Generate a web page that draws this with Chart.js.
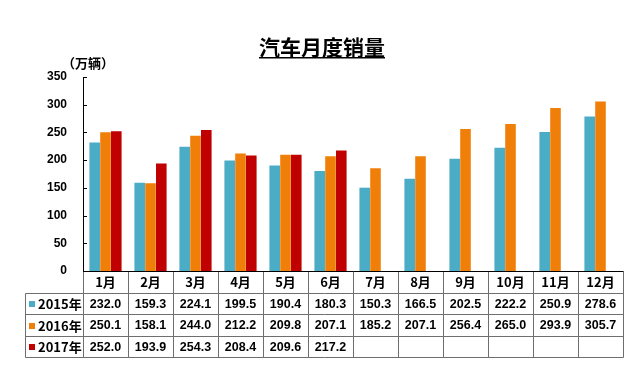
<!DOCTYPE html>
<html><head><meta charset="utf-8">
<script src="https://cdn.jsdelivr.net/npm/chart.js@4"></script>
<style>html,body{margin:0;padding:0;background:#fff;}#wrap{width:640px;height:377px;position:relative;}</style>
</head><body><div id="wrap"><canvas id="c"></canvas></div>
<script>
const categories = ['1月','2月','3月','4月','5月','6月','7月','8月','9月','10月','11月','12月'];
const seriesNames = ['2015年','2016年','2017年'];
const sales2015 = [232.0,159.3,224.1,199.5,190.4,180.3,150.3,166.5,202.5,222.2,250.9,278.6];
const sales2016 = [250.1,158.1,244.0,212.2,209.8,207.1,185.2,207.1,256.4,265.0,293.9,305.7];
const sales2017 = [252.0,193.9,254.3,208.4,209.6,217.2,null,null,null,null,null,null];
const yTicks = [0,50,100,150,200,250,300,350];
const chartTitle = '汽车月度销量';
const unitLabel = '（万辆）';
const colors = ['#4BACC6','#F07F09','#C00000'];

const FONT = '"Liberation Sans", Arial, "Noto Sans CJK SC", sans-serif';
const CJK = '"Noto Sans CJK SC", "Liberation Sans", sans-serif';

const extras = {
  id:'extras',
  afterDraw(chart){
    const {ctx, chartArea:a, scales:{x,y}} = chart;
    ctx.save();
    // title
    ctx.fillStyle = '#000';
    ctx.font = 'bold 21px ' + CJK;
    ctx.textAlign = 'center';
    ctx.textBaseline = 'middle';
    const tx = 322, ty = 47;
    ctx.fillText(chartTitle, tx, ty);
    const tw = ctx.measureText(chartTitle).width;
    ctx.fillRect(tx - tw/2, ty + 10, tw, 1.5);
    // unit label
    ctx.font = 'bold 13px ' + CJK;
    ctx.textAlign = 'left';
    ctx.fillText(unitLabel, 62, 63);
    // inner ticks
    ctx.strokeStyle = '#000';
    ctx.lineWidth = 1;
    yTicks.forEach(v=>{
      const py = Math.round(y.getPixelForValue(v)) + 0.5;
      ctx.beginPath(); ctx.moveTo(a.left, py); ctx.lineTo(a.left+4, py); ctx.stroke();
    });
    // table
    const n = categories.length;
    const bw = (a.right - a.left)/n;
    const rowH = 21.5;
    const top = a.bottom;
    const rows = [0,1,2,3,4].map(i=>Math.round(top + i*rowH)+0.5);
    const left = 25.5;
    ctx.strokeStyle = '#6e6e6e';
    const line=(x1,y1,x2,y2)=>{ctx.beginPath();ctx.moveTo(x1,y1);ctx.lineTo(x2,y2);ctx.stroke();};
    for(let i=1;i<5;i++) line(left, rows[i], a.right+0.5, rows[i]);
    for(let i=0;i<=n;i++){
      const xx = Math.round(x.getPixelForValue(i) - bw/2) + 0.5;
      line(xx, rows[0], xx, rows[4]);
    }
    line(left, rows[1], left, rows[4]);
    ctx.strokeStyle = '#000';
    line(a.left, rows[0], a.right+0.5, rows[0]);
    // header text
    ctx.fillStyle = '#000';
    ctx.textAlign = 'center';
    ctx.textBaseline = 'middle';
    ctx.font = 'bold 13px ' + CJK;
    categories.forEach((c,i)=>ctx.fillText(c, x.getPixelForValue(i), (rows[0]+rows[1])/2));
    const data = [sales2015, sales2016, sales2017];
    data.forEach((arr,r)=>{
      const cy = (rows[r+1]+rows[r+2])/2;
      ctx.font = 'bold 12.5px ' + FONT;
      ctx.textAlign = 'center';
      arr.forEach((v,i)=>{
        if(v===null) return;
        ctx.fillText(v.toFixed(1), x.getPixelForValue(i), cy+0.5);
      });
      ctx.fillStyle = colors[r];
      ctx.fillRect(29, Math.round(cy-3), 6, 6);
      ctx.fillStyle = '#000';
      ctx.textAlign = 'left';
      ctx.font = 'bold 13px ' + CJK;
      ctx.fillText(seriesNames[r], 38, cy+0.5);
    });
    ctx.restore();
  }
};

new Chart(document.getElementById('c'), {
  type:'bar',
  data:{
    labels: categories,
    datasets:[
      {label:seriesNames[0], data:sales2015, backgroundColor:colors[0]},
      {label:seriesNames[1], data:sales2016, backgroundColor:colors[1]},
      {label:seriesNames[2], data:sales2017, backgroundColor:colors[2]}
    ]
  },
  options:{
    responsive:true, maintainAspectRatio:false, devicePixelRatio:1, animation:false,
    layout:{padding:{left:0, top:77, right:17, bottom:106}},
    datasets:{bar:{categoryPercentage:0.72, barPercentage:0.98}},
    plugins:{legend:{display:false}, tooltip:{enabled:false}, title:{display:false}},
    scales:{
      x:{display:false, offset:true},
      y:{
        min:0, max:350,
        afterFit(s){ s.width = 83; },
        afterBuildTicks(s){ s.ticks = yTicks.map(v=>({value:v})); },
        grid:{display:false, drawTicks:false},
        border:{display:true, color:'#000', width:1},
        ticks:{padding:16, color:'#000', font:{family:FONT, size:12, weight:'bold'}}
      }
    }
  },
  plugins:[extras]
});
</script></body></html>
